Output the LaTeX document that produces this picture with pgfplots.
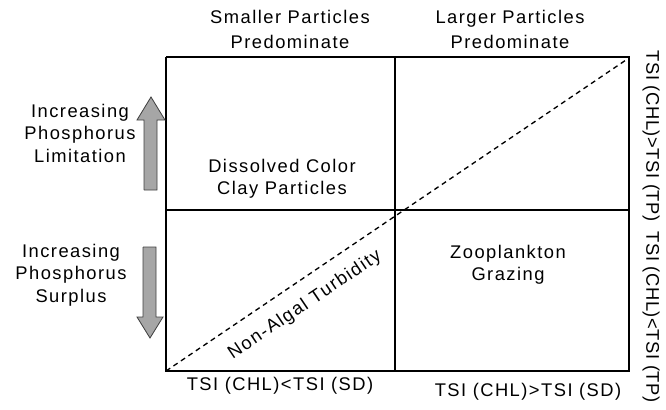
\documentclass[border=0pt]{standalone}
\usepackage{pgfplots}
\pgfplotsset{compat=1.18}
\usepackage{fontspec}
\setmainfont{Liberation Sans}
\newfontfamily\scanfont[LetterSpace=8]{Liberation Sans}
\newfontfamily\scanfontb[LetterSpace=3]{Liberation Sans}
\begin{document}
\begin{tikzpicture}
\tikzset{lbl/.style={font=\scanfont\fontsize{11}{13.5}\selectfont, align=center, text=black, inner sep=1pt},
         rlbl/.style={font=\scanfontb\fontsize{11}{13.5}\selectfont, align=center, text=black, inner sep=1pt}}
\begin{axis}[name=A, scale only axis, width=399.6pt, height=246pt,
  xmin=0, xmax=666, ymin=0, ymax=410, y dir=reverse, hide axis, clip=false]
% frame and dividers
\addplot[black, line width=0.9pt] coordinates {(166,57) (629,57) (629,371) (166,371) (166,57)};
\addplot[black, line width=0.9pt] coordinates {(395,57) (395,371)};
\addplot[black, line width=0.9pt] coordinates {(166,210) (629,210)};
% diagonal
\addplot[black, line width=0.8pt, dash pattern=on 3pt off 2.4pt] coordinates {(166,371) (626,60)};
% arrows
\addplot[fill=gray!70, draw=black!75, line width=0.5pt] coordinates {(144,190) (144,120) (137,120) (151,97) (165,120) (157,120) (157,190) (144,190)};
\addplot[fill=gray!70, draw=black!75, line width=0.5pt] coordinates {(143,247) (156,247) (156,317) (163,317) (150,338) (137,317) (143,317) (143,247)};
% texts
\node[lbl, font=\scanfont\fontsize{11}{15}\selectfont] at (axis cs:290,29.5) {Smaller Particles\\Predominate};
\node[lbl, font=\scanfont\fontsize{11}{15}\selectfont] at (axis cs:510,29.5) {Larger Particles\\Predominate};
\node[lbl] at (axis cs:80,133) {Increasing\\Phosphorus\\Limitation};
\node[lbl] at (axis cs:71,275) {Increasing\\Phosphorus\\Surplus};
\node[lbl] at (axis cs:282,179) {Dissolved Color\\Clay Particles};
\node[lbl] at (axis cs:508,265) {Zooplankton\\Grazing};
\node[lbl, rotate=34] at (axis cs:305,305) {Non-Algal Turbidity};
\node[lbl] at (axis cs:280,386) {TSI (CHL)<TSI (SD)};
\node[lbl] at (axis cs:528,392) {TSI (CHL)>TSI (SD)};
\node[rlbl, rotate=-90] at (axis cs:651,136) {TSI (CHL)>TSI (TP)};
\node[rlbl, rotate=-90] at (axis cs:651,317) {TSI (CHL)<TSI (TP)};
\end{axis}
\pgfresetboundingbox
\path[use as bounding box] (A.south west) rectangle (A.north east);
\end{tikzpicture}
\end{document}
